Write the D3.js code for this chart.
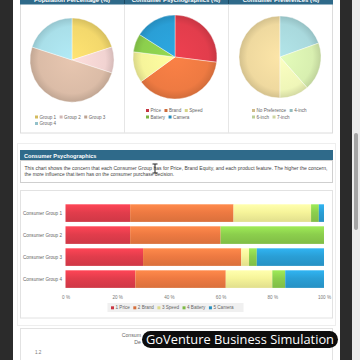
<!DOCTYPE html>
<html><head><meta charset="utf-8">
<script src="https://cdn.jsdelivr.net/npm/d3@7"></script>
<style>html,body{margin:0;padding:0;background:#2b2b2b;overflow:hidden}svg{display:block;font-family:"Liberation Sans",Arial,sans-serif}</style>
</head><body>
<svg id="c" width="360" height="360"></svg>
<script>
// ---- data ----
const popLabels = ["Group 1","Group 2","Group 3","Group 4"];
const popValues = [20,10,50,20];
const popColors = ["#f3d86c","#f1d3d1","#dbbca7","#a9dfe9"];

const psyLabels = ["Price","Brand","Speed","Battery","Camera"];
const psyValues = [27,38,12,7,16];
const psyColors = ["#e23d4c","#ee7a42","#f6f49a","#8ccf4d","#2a9fd6"];

const prefLabels = ["No Preference","4-inch","6-inch","7-inch"];
const prefValues = [50,19.5,19,11.5];
const prefColors = ["#efd99f","#a9d9dd","#d8efb0","#eff6b8"];

const groups = ["Consumer Group 1","Consumer Group 2","Consumer Group 3","Consumer Group 4"];
const features = ["1 Price","2 Brand","3 Speed","4 Battery","5 Camera"];
const priceVals   = [25,25,30,27];
const brandVals   = [40,35,38,35];
const speedVals   = [30,0,3,18];
const batteryVals = [3,40,3,5];
const cameraVals  = [2,0,26,15];
const xTicks = [0,20,40,60,80,100];

const svg = d3.select("#c");
const defs = svg.append("defs");
function shade(c,k){return d3.color(c).brighter(k).formatHex();}

// background pieces
svg.append("rect").attr("x",0).attr("y",0).attr("width",360).attr("height",360).attr("fill","#2b2b2b");
svg.append("rect").attr("x",13).attr("y",0).attr("width",327).attr("height",360).attr("fill","#ffffff");
svg.append("rect").attr("x",352).attr("y",0).attr("width",8).attr("height",360).attr("fill","#ececec");
svg.append("rect").attr("x",354).attr("y",133).attr("width",4).attr("height",97).attr("rx",2).attr("fill","#a5a5a5");

// ---- top pie panels ----
const headerBlue = "#2f6a8a";
svg.append("rect").attr("x",20.5).attr("y",-2).attr("width",312).attr("height",135).attr("fill","#fff").attr("stroke","#dcdcdc");
svg.append("rect").attr("x",20).attr("y",0).attr("width",313).attr("height",4.5).attr("fill",headerBlue);
[124.5,228.5].forEach(x=>{
  svg.append("line").attr("x1",x).attr("x2",x).attr("y1",0).attr("y2",4.5).attr("stroke","#1d4a63");
  svg.append("line").attr("x1",x).attr("x2",x).attr("y1",4.5).attr("y2",133).attr("stroke","#e6e6e6");
});
const titles = ["Population Percentage (%)","Consumer Psychographics (%)","Consumer Preferences (%)"];
[72,176,281].forEach((cx,i)=>svg.append("text").attr("x",cx).attr("y",2.2).attr("text-anchor","middle")
  .attr("font-size",6).attr("font-weight","bold").attr("fill","#fff").text(titles[i]));

function drawPie(cx,cy,r,labels,values,colors,startAngle,gid,legendX,legendY,perRow){
  const data = labels.map((l,i)=>({label:l,value:values[i],color:colors[i]}));
  const pie = d3.pie().sort(null).value(d=>d.value).startAngle(startAngle).endAngle(startAngle+2*Math.PI);
  const arc = d3.arc().innerRadius(0).outerRadius(r);
  const g = svg.append("g").attr("transform",`translate(${cx},${cy})`);
  data.forEach((d,i)=>{
    const gr = defs.append("radialGradient").attr("id",gid+i).attr("gradientUnits","userSpaceOnUse")
      .attr("cx",0).attr("cy",0).attr("r",r);
    gr.append("stop").attr("offset","0%").attr("stop-color",shade(d.color,0.15));
    gr.append("stop").attr("offset","80%").attr("stop-color",d.color);
    gr.append("stop").attr("offset","100%").attr("stop-color",shade(d.color,-0.35));
  });
  g.selectAll("path").data(pie(data)).join("path").attr("d",arc)
    .attr("fill",(d,i)=>`url(#${gid}${i})`).attr("stroke","#fff").attr("stroke-width",0.4);
  // legend
  const lg = svg.append("g");
  let x = legendX, y = legendY;
  data.forEach((d,i)=>{
    if(i>0 && i%perRow===0){x=legendX;y+=6.5;}
    lg.append("rect").attr("x",x).attr("y",y-3).attr("width",3).attr("height",3).attr("fill",d3.color(d.color).darker(0.4));
    const t = lg.append("text").attr("x",x+4.5).attr("y",y).attr("font-size",4.6).attr("fill","#666").text(d.label);
    x += 4.5 + t.node().getComputedTextLength() + 3.5;
  });
}
drawPie(72,60,42,popLabels,popValues,popColors,0,"pa",35,118.5,3);
drawPie(175,57,42,psyLabels,psyValues,psyColors,0,"pb",146,112,3);
drawPie(280,57,41,prefLabels,prefValues,prefColors,Math.PI,"pc",252,112,2);

// ---- Consumer Psychographics section ----
svg.append("rect").attr("x",17.5).attr("y",143.5).attr("width",318).attr("height",182).attr("fill","none").attr("stroke","#eeeeee");
svg.append("rect").attr("x",20).attr("y",150).attr("width",313).attr("height",10.5).attr("fill",headerBlue);
svg.append("text").attr("x",24).attr("y",157.6).attr("font-size",5.6).attr("font-weight","bold").attr("fill","#fff").text("Consumer Psychographics");
svg.append("rect").attr("x",20.5).attr("y",160.5).attr("width",312).attr("height",22).attr("fill","#fff").attr("stroke","#cfcfcf");
svg.append("text").attr("x",24.5).attr("y",169.5).attr("font-size",4.9).attr("fill","#444")
  .attr("textLength",303).attr("lengthAdjust","spacingAndGlyphs")
  .text("This chart shows the concern that each Consumer Group has for Price, Brand Equity, and each product feature. The higher the concern,");
svg.append("text").attr("x",24.5).attr("y",176.3).attr("font-size",4.9).attr("fill","#444")
  .text("the more influence that item has on the consumer purchase decision.");
// cursor I-beam
svg.append("path").attr("d","M152.5,164 h5 M155,164 v9 M152.5,173 h5").attr("stroke","#222").attr("stroke-width",1).attr("fill","none");

// ---- stacked bar chart ----
svg.append("rect").attr("x",20.5).attr("y",190.5).attr("width",312).attr("height",127.5).attr("fill","#fff").attr("stroke","#e2e2e2");
const series = [priceVals,brandVals,speedVals,batteryVals,cameraVals];
const x = d3.scaleLinear().domain([0,100]).range([65.5,324]);
const y = d3.scaleBand().domain(groups).range([202.1,290.1]).paddingInner(0.2).paddingOuter(0.1);
psyColors.forEach((c,i)=>{
  const gr = defs.append("linearGradient").attr("id","bg"+i).attr("x1",0).attr("x2",0).attr("y1",0).attr("y2",1);
  gr.append("stop").attr("offset","0%").attr("stop-color",shade(c,0.35));
  gr.append("stop").attr("offset","45%").attr("stop-color",c);
  gr.append("stop").attr("offset","100%").attr("stop-color",shade(c,-0.25));
});
const stackData = groups.map((g,gi)=>{const o={group:g}; features.forEach((f,fi)=>o[f]=series[fi][gi]); return o;});
const stacked = d3.stack().keys(features)(stackData);
svg.append("g").selectAll("g").data(stacked).join("g").attr("fill",(d,i)=>`url(#bg${i})`)
  .selectAll("rect").data(d=>d).join("rect")
  .attr("x",d=>x(d[0])).attr("width",d=>x(d[1])-x(d[0]))
  .attr("y",d=>y(d.data.group)).attr("height",y.bandwidth());
const xAxis = svg.append("g").attr("transform","translate(0,291)")
  .call(d3.axisBottom(x).tickValues(xTicks).tickSize(0).tickPadding(4.5).tickFormat(d=>d+" %"));
xAxis.select(".domain").remove();
xAxis.selectAll("text").attr("font-size",4.6).attr("fill","#777").attr("font-family","Liberation Sans, Arial, sans-serif");
const yAxis = svg.append("g").attr("transform","translate(62,0)")
  .call(d3.axisLeft(y).tickSize(0).tickPadding(0));
yAxis.select(".domain").remove();
yAxis.selectAll("text").attr("font-size",4.6).attr("fill","#666").attr("font-family","Liberation Sans, Arial, sans-serif");

// legend
svg.append("rect").attr("x",107.5).attr("y",303).attr("width",136).attr("height",9).attr("fill","#f0f0f0");
{
  let lx = 111; const ly = 309.3;
  features.forEach((f,i)=>{
    svg.append("rect").attr("x",lx).attr("y",ly-3).attr("width",3).attr("height",3).attr("fill",d3.color(psyColors[i]).darker(0.3));
    const t = svg.append("text").attr("x",lx+4.5).attr("y",ly).attr("font-size",4.6).attr("fill","#666").text(f);
    lx += 4.5 + t.node().getComputedTextLength() + 3.5;
  });
}

// ---- next panel (partially visible, covered by the watermark label) ----
svg.append("rect").attr("x",20.5).attr("y",328.5).attr("width",312).attr("height",40).attr("fill","#fff").attr("stroke","#e2e2e2");
svg.append("text").attr("x",141).attr("y",337).attr("text-anchor","end").attr("font-size",5.2).attr("fill","#666").text("Consum");
svg.append("text").attr("x",141).attr("y",344).attr("text-anchor","end").attr("font-size",5.2).attr("fill","#666").text("De");
svg.append("text").attr("x",35).attr("y",354).attr("font-size",4.6).attr("fill","#777").text("1.2");

// watermark label
svg.append("rect").attr("x",142).attr("y",331).attr("width",196).attr("height",17).attr("rx",8.5).attr("fill","#0d0d0d");
svg.append("text").attr("x",240).attr("y",344).attr("text-anchor","middle").attr("font-size",12.5)
  .attr("font-family","Open Sans, DejaVu Sans, sans-serif").attr("fill","#fff")
  .attr("textLength",188).attr("lengthAdjust","spacingAndGlyphs").text("GoVenture Business Simulation");
</script>
</body></html>
